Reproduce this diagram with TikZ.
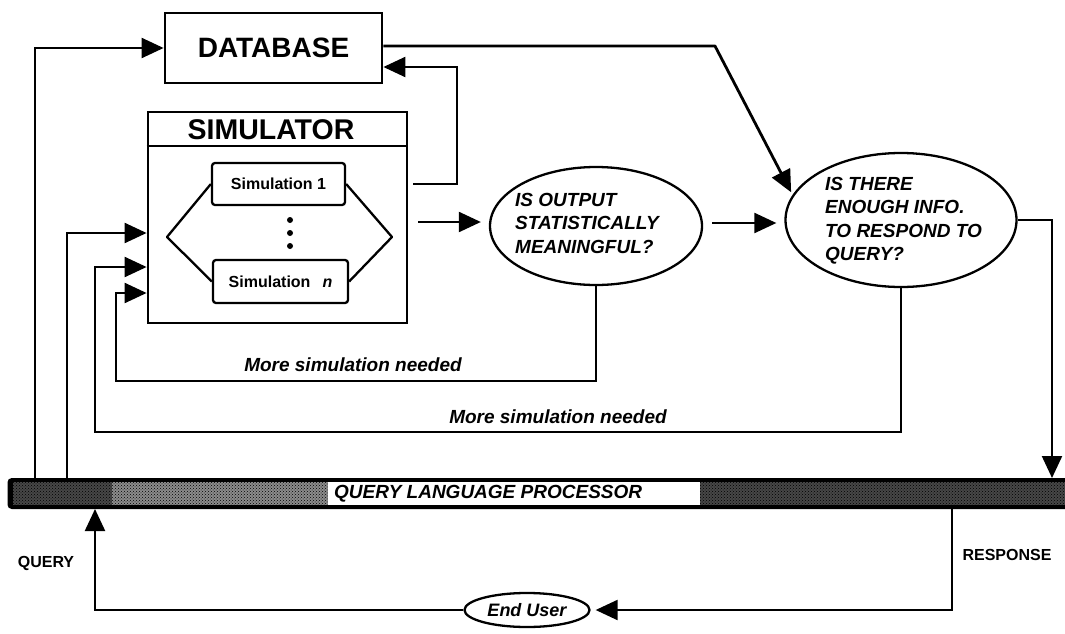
\documentclass[tikz,border=0pt]{standalone}
\usepackage{fontspec}
\setmainfont{Liberation Sans}
\usetikzlibrary{arrows.meta,shapes.geometric,calc,patterns}

\begin{document}
\begin{tikzpicture}[x=1pt,y=-1pt,
  box/.style={draw, line width=2.8pt, inner sep=0pt},
  simbox/.style={draw, line width=2.3pt, rounded corners=3pt, minimum width=133pt,
    minimum height=42pt, font=\fontsize{16}{18}\selectfont\bfseries, inner sep=0pt},
  decision/.style={draw, ellipse, line width=2.3pt, inner sep=0pt},
  qtext/.style={font=\fontsize{19}{23.5}\selectfont\bfseries\itshape, align=left,
    inner sep=0pt, anchor=north west},
  conn/.style={line width=2.2pt},
  arr/.style={conn, -{Triangle[length=22pt,width=20pt]}},
  note/.style={font=\fontsize{19}{21}\selectfont\bfseries\itshape, inner sep=0pt},
  tag/.style={font=\fontsize{16}{18}\selectfont\bfseries, inner sep=0pt}]

\useasboundingbox (0,0) rectangle (1065,634);

% lanes and levels used by the routed connectors
\coordinate (laneA) at (35,0);
\coordinate (laneB) at (67,0);
\coordinate (laneC) at (95,0);
\coordinate (laneD) at (116,0);
\coordinate (laneUp) at (457,0);
\coordinate (laneResp) at (952,0);
\coordinate (laneR) at (1052,0);
\coordinate (yFb) at (0,67);
\coordinate (yHdr) at (0,146);
\coordinate (yOut) at (0,222);
\coordinate (yMid) at (0,223);
\coordinate (yIn1) at (0,233);
\coordinate (yIn2) at (0,267);
\coordinate (yIn3) at (0,293);
\coordinate (yLoop1) at (0,381);
\coordinate (yLoop2) at (0,432);
\coordinate (bend) at (715,46);

% database
\node[box, minimum width=217pt, minimum height=70pt,
  font=\fontsize{28}{30}\selectfont\bfseries] (db) at (273.5,48) {DATABASE};

% simulator with its parallel runs
\node[box, minimum width=259pt, minimum height=211pt] (sim) at (277.5,217.5) {};
\node[font=\fontsize{28.5}{30}\selectfont\bfseries, inner sep=0pt] (simtitle) at (271,130) {SIMULATOR};
\draw[line width=2.3pt] (sim.west |- yHdr) -- (sim.east |- yHdr);

\node[simbox] (s1) at (278.5,184) {Simulation 1\hspace{6pt}};
\node[simbox, minimum width=135pt, minimum height=43pt] (sn) at (280.5,281.5)
  {Simulation\hspace{12pt}\textit{n}};
\coordinate (hexL) at (167,237);
\coordinate (hexR) at (392,237);
\draw[line width=2.3pt, line join=round] (s1.west) -- (hexL) -- (sn.west);
\draw[line width=2.3pt, line join=round] (s1.east) -- (hexR) -- (sn.east);
\foreach \y in {220,233,246} \fill (290,\y) circle (3pt);

% decisions
\node[decision, minimum width=212pt, minimum height=118pt] (e1) at (596,226) {};
\node[qtext] (e1t) at (515,193) {IS OUTPUT\\STATISTICALLY\\MEANINGFUL?};
\node[decision, minimum width=231pt, minimum height=134pt] (e2) at (901,220) {};
\node[qtext] (e2t) at (825,177) {IS THERE\\ENOUGH INFO.\\TO RESPOND TO\\QUERY?};

% query language processor bar
\node[draw, line width=3pt, rounded corners=3pt, fill=black, minimum width=1062pt,
  minimum height=28pt, inner sep=0pt] (qlp) at (540,493.5) {};
\fill[black!72] (13,482) rectangle (112,505);
\fill[black!45] (112,482) rectangle (328,505);
\fill[black!72] (700,482) rectangle (1066,505);
\fill[pattern=crosshatch dots, pattern color=black] (13,482) rectangle (328,505);
\fill[pattern=crosshatch dots, pattern color=black] (700,482) rectangle (1066,505);
\fill[white] (328,482) rectangle (700,505);
\node[font=\fontsize{19}{21}\selectfont\bfseries\itshape, anchor=west, inner sep=0pt] (qlpt)
  at (334,494) {QUERY LANGUAGE PROCESSOR};

% end user
\node[decision, minimum width=125pt, minimum height=34pt,
  font=\fontsize{18}{20}\selectfont\bfseries\itshape] (eu) at (527,610) {End User};

% connectors
\draw[arr] (qlp.north -| laneA) |- (db.west);
\draw[arr] (qlp.north -| laneB) |- (sim.west |- yIn1);
\draw[arr] (e1.south) |- (laneD |- yLoop1) -- (laneD |- yIn3) -- (sim.west |- yIn3);
\draw[arr] (e2.south) |- (laneC |- yLoop2) -- (laneC |- yIn2) -- (sim.west |- yIn2);
\draw[arr] (e2.east) -| (qlp.north -| laneR);
\draw[arr] ($(sim.east |- yOut)+(10,0)$) -- ($(e1.west |- yOut)+(-8,0)$);
\draw[arr] ($(e1.east |- yMid)+(9,0)$) -- ($(e2.west |- yMid)+(-8,0)$);
\draw[arr, line width=2.8pt, line join=round, shorten >=3pt] (db.east |- bend) -- (bend) -- (e2.167);
\draw[arr] ($(sim.east |- s1.east)+(5,0)$) -- (laneUp |- s1.east) -- (laneUp |- yFb)
  -- (db.east |- yFb);
\draw[arr, shorten >=5pt] (qlp.south -| laneResp) |- (eu.east);
\draw[arr] (eu.west) -| (qlp.south -| laneC);

% labels
\node[note] (more1) at (353,365) {More simulation needed};
\node[note] (more2) at (558,417) {More simulation needed};
\node[tag] (qlabel) at (46,563) {QUERY};
\node[tag] (rlabel) at (1007,555) {RESPONSE};
\end{tikzpicture}
\end{document}
